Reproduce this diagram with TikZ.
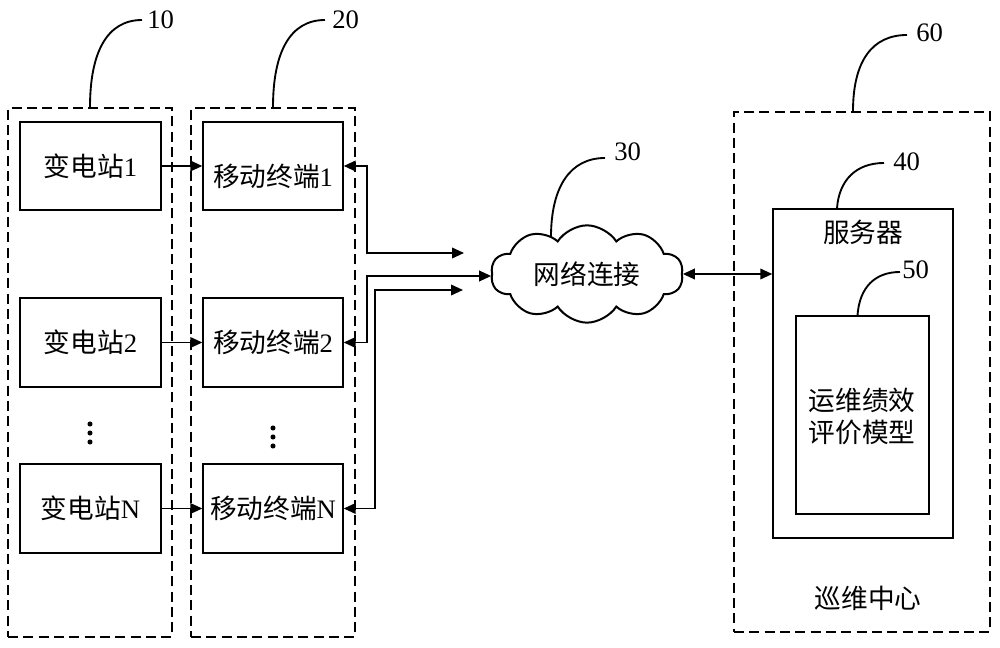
\documentclass[tikz,border=0pt]{standalone}
\usepackage{fontspec}
\setmainfont{Liberation Serif}
\newfontfamily\cjk{Noto Sans CJK SC}
\usetikzlibrary{shapes.symbols,arrows.meta,fit,calc}
\begin{document}
\begin{tikzpicture}[x=0.75pt,y=-0.75pt,
  box/.style={draw, line width=1.1pt, inner sep=0pt},
  dbox/.style={draw, line width=1.1pt, dash pattern=on 7.5pt off 4pt, inner sep=0pt},
  txt/.style={font=\fontsize{20}{24}\selectfont, inner sep=0pt, align=center},
  num/.style={font=\fontsize{20}{24}\selectfont, inner sep=0pt, anchor=west},
  leader/.style={line width=1.4pt},
  arr/.style={line width=1.2pt, -{Triangle[length=9pt,width=8pt]}},
  arrb/.style={line width=1.2pt, {Triangle[length=9pt,width=8pt]}-{Triangle[length=9pt,width=8pt]}},
  dotmark/.style={fill=black},
]
\useasboundingbox (0,0) rectangle (1000,648);

% dashed groups
\node[dbox, fit={(8,108) (172,637)}] (d10) {};
\node[dbox, fit={(191,108) (355,637)}] (d20) {};
\node[dbox, fit={(734,112) (990,632)}] (d60) {};

% substations
\node[box, fit={(20,122) (161,210)}] (s1) {};
\node[box, fit={(20,298) (161,387)}] (s2) {};
\node[box, fit={(20,464) (161,553)}] (sN) {};
\node[txt] (s1t) at (s1.center) {{\cjk 变电站}1};
\node[txt] (s2t) at (s2.center) {{\cjk 变电站}2};
\node[txt] (sNt) at (sN.center) {{\cjk 变电站}N};

% mobile terminals
\node[box, fit={(203,122) (343,210)}] (m1) {};
\node[box, fit={(203,298) (343,387)}] (m2) {};
\node[box, fit={(203,464) (343,553)}] (mN) {};
\node[txt] (m1t) at (273,176) {{\cjk 移动终端}1};
\node[txt] (m2t) at (m2.center) {{\cjk 移动终端}2};
\node[txt] (mNt) at (mN.center) {{\cjk 移动终端}N};

% dots
\fill[dotmark] (90,424) circle[radius=1.9pt];
\fill[dotmark] (90,433) circle[radius=1.9pt];
\fill[dotmark] (90,442) circle[radius=1.9pt];
\fill[dotmark] (273,428) circle[radius=1.9pt];
\fill[dotmark] (273,437) circle[radius=1.9pt];
\fill[dotmark] (273,446) circle[radius=1.9pt];

% cloud
\node[cloud, draw, line width=1.5pt, cloud puffs=10, cloud puff arc=115, aspect=2,
      minimum width=144pt, minimum height=71pt, inner sep=0pt,
      font=\fontsize{20}{24}\selectfont] (cloud) at (587,274) {\cjk 网络连接};

% server
\node[box, fit={(773,209) (953,538)}] (server) {};
\node[box, fit={(796,316) (929,514)}] (model) {};
\node[txt] (servert) at (863,232) {\cjk 服务器};
\node[txt] (modelt) at (862,416) {\cjk 运维绩效\\\cjk 评价模型};
\node[txt] (centert) at (868,598) {\cjk 巡维中心};

% number labels
\node[num] (n10) at (147,20) {10};
\node[num] (n20) at (332,20) {20};
\node[num] (n30) at (614,152) {30};
\node[num] (n40) at (893,162) {40};
\node[num] (n50) at (902,270) {50};
\node[num] (n60) at (916,33) {60};

% leaders
\draw[leader] (d10.north) .. controls +(0,-55) and +(-35,0) .. ($(n10.west)+(-5,0)$);
\draw[leader] (d20.north) .. controls +(0,-55) and +(-35,0) .. ($(n20.west)+(-7,0)$);
\draw[leader] ($(cloud.center)+(-36,-37)$) .. controls +(0,-50) and +(-35,0) .. ($(n30.west)+(-9,6)$);
\draw[leader] ($(server.north)+(-26,0)$) .. controls +(2,-28) and +(-28,0) .. ($(n40.west)+(-9,1)$);
\draw[leader] ($(model.north)+(-5,0)$) .. controls +(2,-28) and +(-25,0) .. ($(n50.west)+(-2,2)$);
\draw[leader] ($(d60.north)+(-9,0)$) .. controls +(0,-50) and +(-35,0) .. ($(n60.west)+(-9,2)$);

% connectors
\draw[arr] (s1) -- (m1);
\draw[arr] (s2) -- (m2);
\draw[arr] (sN) -- (mN);

\coordinate (j1) at (367,253);
\coordinate (c1) at (464,253);
\coordinate (j2) at (367,276);
\coordinate (j3) at (375,290);
\coordinate (c3) at (463,290);
\draw[arrb] (m1.east) -| (j1) -- (c1);
\draw[arrb] (m2.east) -| (j2) -- (j2 -| cloud.west);
\draw[arrb] (mN.east) -| (j3) -- (c3);
\draw[arrb] (cloud.east) -- (cloud.east -| server.west);
\end{tikzpicture}
\end{document}
